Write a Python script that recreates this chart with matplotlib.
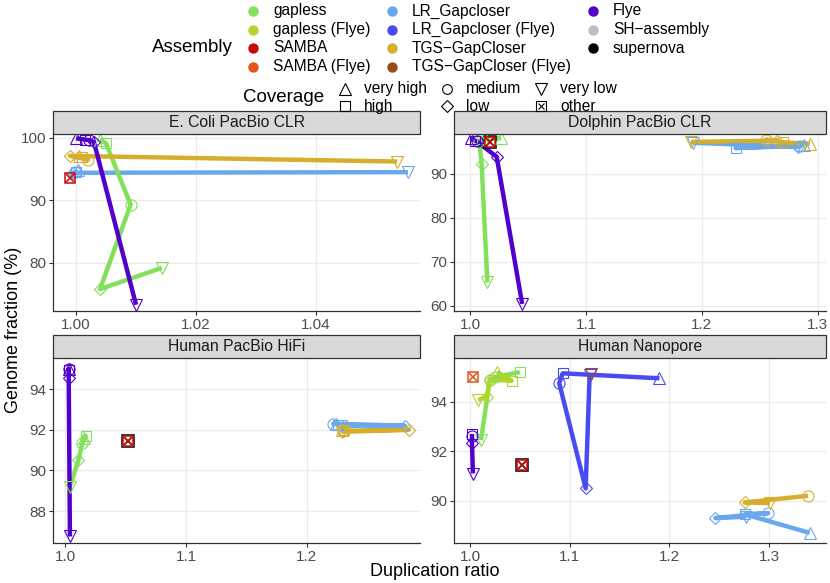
import matplotlib
matplotlib.use("Agg")
import matplotlib.pyplot as plt
from matplotlib.lines import Line2D
from matplotlib.patches import Rectangle
import pandas as pd

plt.rcParams['font.family'] = ['Liberation Sans', 'DejaVu Sans']

# assembly colours and coverage shapes
assemblies = ["gapless", "gapless (Flye)", "SAMBA", "SAMBA (Flye)",
              "LR_Gapcloser", "LR_Gapcloser (Flye)", "TGS−GapCloser",
              "TGS−GapCloser (Flye)", "Flye", "SH−assembly", "supernova"]
asm_colors = ["#82E05A", "#B4D42E", "#C80A0A", "#E0561C",
              "#6AA8EE", "#4A4AF2", "#D4AE2C",
              "#9C4A18", "#5200CC", "#B8C2C2", "#000000"]
coverages = ["very high", "high", "medium", "low", "very low", "other"]
cov_markers = ["^", "s", "o", "D", "v", "other"]

# E. Coli PacBio CLR
ecoli_asm = ["Flye"] * 5 + ["gapless"] * 5 + ["TGS−GapCloser"] * 5 + ["LR_Gapcloser"] * 5 + ["SAMBA"]
ecoli_cov = coverages[:5] * 4 + ["other"]
ecoli_dup = [1.0000, 1.0015, 1.0022, 1.0030, 1.0100,
             1.0040, 1.0050, 1.0091, 1.0040, 1.0143,
             1.0005, 1.0010, 1.0020, 0.9990, 1.0535,
             1.0003, 1.0000, 0.9998, 0.9995, 1.0553,
             0.9990]
ecoli_gf = [99.9, 99.7, 99.6, 99.3, 73.3,
            99.7, 99.1, 89.3, 75.8, 79.2,
            97.1, 96.9, 96.5, 97.1, 96.2,
            94.8, 94.6, 94.5, 94.4, 94.5,
            93.5]

# Dolphin PacBio CLR
dolphin_asm = ["Flye"] * 5 + ["gapless"] * 5 + ["TGS−GapCloser"] * 5 + ["LR_Gapcloser"] * 5 + ["supernova", "SAMBA"]
dolphin_cov = coverages[:5] * 4 + ["other", "other"]
dolphin_dup = [1.0005, 1.004, 1.006, 1.023, 1.045,
               1.027, 1.010, 1.008, 1.010, 1.015,
               1.293, 1.270, 1.255, 1.265, 1.1905,
               1.288, 1.229, 1.285, 1.283, 1.192,
               1.017, 1.017]
dolphin_gf = [98.1, 97.6, 97.4, 93.9, 60.4,
              98.2, 97.9, 97.6, 92.3, 65.3,
              96.9, 97.2, 97.8, 97.6, 97.3,
              96.6, 95.9, 96.4, 96.2, 97.1,
              97.2, 97.2]

# Human PacBio HiFi
hifi_asm = ["Flye"] * 5 + ["gapless"] * 5 + ["LR_Gapcloser"] * 5 + ["TGS−GapCloser"] * 5 + ["supernova", "SAMBA"]
hifi_cov = coverages[:5] * 4 + ["other", "other"]
hifi_dup = [1.003, 1.003, 1.003, 1.003, 1.004,
            1.016, 1.017, 1.0143, 1.011, 1.004,
            1.224, 1.226, 1.2218, 1.281, 1.228,
            1.229, 1.231, 1.230, 1.2843, 1.2289,
            1.0523, 1.0523]
hifi_gf = [95.0, 94.95, 95.0, 94.55, 86.75,
           91.6, 91.7, 91.35, 90.5, 89.2,
           92.3, 92.25, 92.3, 92.2, 92.2,
           92.0, 92.0, 91.95, 92.0, 91.9,
           91.45, 91.45]

# Human Nanopore
nano_asm = (["Flye"] * 4 + ["gapless"] * 4 + ["gapless (Flye)"] * 5 + ["LR_Gapcloser (Flye)"] * 5
            + ["TGS−GapCloser (Flye)"] + ["TGS−GapCloser"] * 3 + ["LR_Gapcloser"] * 5
            + ["supernova", "SAMBA", "SAMBA (Flye)"])
nano_cov = (coverages[1:5] + coverages[1:5] + coverages[:5] + coverages[:5]
            + ["very low"] + coverages[2:5] + coverages[:5] + ["other"] * 3)
nano_dup = [1.002, 1.002, 1.002, 1.003,
            1.050, 1.025, 1.020, 1.011,
            1.0273, 1.0418, 1.020, 1.0167, 1.0083,
            1.190, 1.093, 1.0895, 1.116, 1.120,
            1.121,
            1.339, 1.2755, 1.3007,
            1.3407, 1.2755, 1.299, 1.2462, 1.2765,
            1.052, 1.052, 1.003]
nano_gf = [92.7, 92.6, 92.35, 91.1,
           95.2, 95.0, 94.9, 92.45,
           95.2, 94.85, 94.9, 94.2, 94.07,
           94.95, 95.15, 94.75, 90.5, 95.1,
           95.12,
           90.2, 89.93, 89.9,
           88.7, 89.45, 89.5, 89.3, 89.35,
           91.45, 91.45, 95.0]

panels = [
    ("E. Coli PacBio CLR", ecoli_asm, ecoli_cov, ecoli_dup, ecoli_gf,
     [1.00, 1.02, 1.04], "%.2f", [80, 90, 100], (0.99617, 1.0573), (72.3, 100.6)),
    ("Dolphin PacBio CLR", dolphin_asm, dolphin_cov, dolphin_dup, dolphin_gf,
     [1.0, 1.1, 1.2, 1.3], "%.1f", [60, 70, 80, 90], (0.9862, 1.307), (58.8, 99.1)),
    ("Human PacBio HiFi", hifi_asm, hifi_cov, hifi_dup, hifi_gf,
     [1.0, 1.1, 1.2], "%.1f", [88, 90, 92, 94], (0.990, 1.2936), (86.43, 95.53)),
    ("Human Nanopore", nano_asm, nano_cov, nano_dup, nano_gf,
     [1.0, 1.1, 1.2, 1.3], "%.1f", [90, 92, 94], (0.984, 1.357), (88.29, 95.77)),
]

W, H = 830, 583
fig = plt.figure(figsize=(W / 100, H / 100), dpi=100)


def fx(x):
    return x / W


def fy(y):
    return 1 - y / H


def draw_other(target, x, y, col, size, mew, **kw):
    # square with a cross inside (ggplot shape 7)
    target.plot([x], [y], marker="s", ms=size, mfc="none", mec=col, mew=mew, ls="none", **kw)
    target.plot([x], [y], marker="x", ms=size * 0.75, mec=col, mew=mew, ls="none", **kw)


# axes boxes in pixels: left, right, top, bottom
boxes = [(53, 420, 134, 311), (454, 826, 134, 311),
         (53, 420, 358, 543), (454, 826, 358, 543)]
strip_h = 23

line_order = ["LR_Gapcloser", "LR_Gapcloser (Flye)", "gapless", "gapless (Flye)",
              "TGS−GapCloser", "TGS−GapCloser (Flye)", "Flye"]
point_order = ["supernova", "SH−assembly", "LR_Gapcloser", "LR_Gapcloser (Flye)",
               "gapless", "gapless (Flye)", "TGS−GapCloser", "TGS−GapCloser (Flye)",
               "Flye", "SAMBA (Flye)", "SAMBA"]
dark = "#333333"

for (title, asm, cov, dup, gf, xt, xfmt, yt, xl, yl), (l, r, t, b) in zip(panels, boxes):
    ax = fig.add_axes([fx(l), fy(b), fx(r - l), (b - t) / H])
    df = pd.DataFrame({"asm": asm, "cov": cov, "dup": dup, "gf": gf})

    for a in line_order:
        sub = df[(df["asm"] == a) & (df["cov"] != "other")]
        if len(sub) > 1:
            col = asm_colors[assemblies.index(a)]
            ax.plot(sub["dup"], sub["gf"], color=col, lw=3.2, zorder=2,
                    solid_capstyle="butt")

    for a in point_order:
        sub = df[df["asm"] == a]
        col = asm_colors[assemblies.index(a)]
        for _, row in sub.iterrows():
            m = cov_markers[coverages.index(row["cov"])]
            if m == "other":
                draw_other(ax, row["dup"], row["gf"], col,
                           8 if a == "supernova" else 7, 1.1, zorder=3)
            else:
                ms = {"s": 7.5, "D": 6.5, "o": 8}.get(m, 9)
                ax.plot(row["dup"], row["gf"], marker=m, ms=ms,
                        mfc="none", mec=col, mew=0.8, zorder=3, ls="none")

    ax.set_xlim(*xl)
    ax.set_ylim(*yl)
    ax.set_xticks(xt)
    ax.set_xticklabels([xfmt % v for v in xt])
    ax.set_yticks(yt)
    ax.grid(True, color="#EBEBEB", lw=0.9)
    ax.set_axisbelow(True)
    for s in ["top", "right"]:
        ax.spines[s].set_visible(False)
    for s in ["left", "bottom"]:
        ax.spines[s].set_color(dark)
        ax.spines[s].set_linewidth(0.9)
    ax.tick_params(length=3, width=0.8, color=dark, labelsize=11,
                   labelcolor="#4D4D4D", pad=2)

    # facet strip
    fig.add_artist(Rectangle((fx(l), fy(t)), fx(r - l), strip_h / H,
                             facecolor="#D9D9D9", edgecolor=dark, lw=0.9,
                             transform=fig.transFigure))
    fig.text(fx((l + r) / 2), fy(t - strip_h / 2), title, ha="center",
             va="center", fontsize=11.3, color="#1A1A1A")

fig.text(fx(435), fy(572), "Duplication ratio", ha="center", va="center", fontsize=13)
fig.text(fx(14), fy(330), "Genome fraction (%)", ha="center", va="center",
         fontsize=13, rotation=90)

# assembly legend
fig.text(fx(192), fy(48), "Assembly", ha="center", va="center", fontsize=13.5)
col_x = [253, 392, 593]
row_y = [11, 29.5, 48, 66.5]
for i, a in enumerate(assemblies):
    c, rr = divmod(i, 4)
    x, y = col_x[c], row_y[rr]
    fig.add_artist(Line2D([fx(x)], [fy(y)], marker="o", ms=6.5, color=asm_colors[i],
                          ls="none", transform=fig.transFigure))
    fig.text(fx(x + 20), fy(y), a, ha="left", va="center", fontsize=11.2)

# coverage legend
fig.text(fx(284), fy(97), "Coverage", ha="center", va="center", fontsize=13.5)
cx = [345, 447, 541]
cy = [88.5, 106]
for i, cv in enumerate(coverages):
    c, rr = divmod(i, 2)
    x, y = cx[c], cy[rr]
    m = cov_markers[i]
    if m == "other":
        fig.add_artist(Line2D([fx(x)], [fy(y)], marker="s", ms=6.5, mfc="none",
                              mec="black", mew=0.8, ls="none", transform=fig.transFigure))
        fig.add_artist(Line2D([fx(x)], [fy(y)], marker="x", ms=5, mec="black",
                              mew=0.8, ls="none", transform=fig.transFigure))
    else:
        ms = {"s": 6.5, "D": 6, "o": 7}.get(m, 8)
        fig.add_artist(Line2D([fx(x)], [fy(y)], marker=m, ms=ms,
                              mfc="none", mec="black", mew=0.8, ls="none",
                              transform=fig.transFigure))
    fig.text(fx(x + 19), fy(y), cv, ha="left", va="center", fontsize=11.2)

fig.savefig("out.png", dpi=100)
